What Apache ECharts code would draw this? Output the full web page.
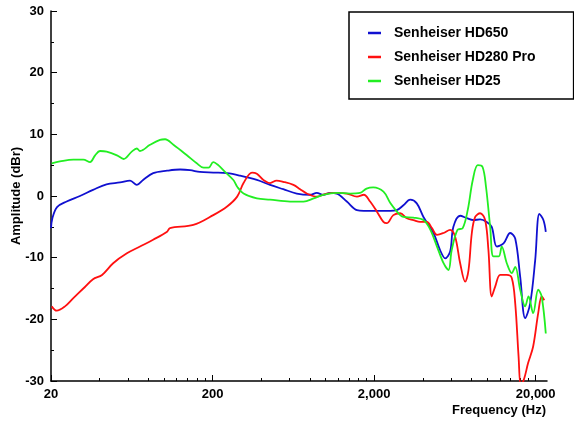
<!DOCTYPE html>
<html>
<head>
<meta charset="utf-8">
<script src="https://cdn.jsdelivr.net/npm/echarts@6/dist/echarts.min.js"></script>
<style>
html,body{margin:0;padding:0;background:#fff;}
#chart{width:574px;height:424px;}
</style>
</head>
<body>
<div id="chart"></div>
<script>
// Series names
const seriesNames = ['Senheiser HD650', 'Senheiser HD280 Pro', 'Senheiser HD25'];

// Senheiser HD650 (Hz, dBr)
const hd650Freq = [20, 20.4, 21.8, 25.0, 30.2, 36.4, 44.1, 53.5, 61.7, 68.0, 74.3, 85.8, 104.6, 125.9, 145, 167, 202, 246, 296, 376, 454, 548, 664, 803, 883, 969, 1068, 1173, 1355, 1566, 1727, 2078, 2513, 2760, 3036, 3342, 3673, 4040, 4660, 5126, 5506, 5909, 6190, 6816, 7500, 8240, 9062, 9950, 10690, 11500, 12650, 13910, 14940, 16040, 17220, 18500, 19860, 21080, 22320, 23100];
const hd650Amp = [-5.2, -3.6, -1.8, -0.9, 0.0, 1.0, 1.9, 2.2, 2.5, 1.8, 2.6, 3.7, 4.1, 4.3, 4.2, 3.9, 3.8, 3.7, 3.3, 2.6, 1.8, 1.1, 0.4, 0.2, 0.5, 0.2, 0.5, 0.4, -0.9, -2.3, -2.4, -2.4, -2.4, -2.3, -1.5, -0.6, -1.2, -3.4, -6.0, -8.8, -10.1, -9.0, -5.0, -3.2, -3.6, -3.9, -3.8, -4.2, -5.0, -8.2, -7.7, -6.0, -6.9, -13.1, -19.8, -17.4, -10.4, -2.9, -3.9, -5.8];

// Senheiser HD280 Pro (Hz, dBr)
const hd280Freq = [20.2, 21.7, 24.4, 27.4, 31.7, 36.4, 41.4, 48.5, 59.0, 71.1, 85.7, 104.6, 109, 152, 202, 246, 284, 311, 351, 376, 413, 454, 498, 548, 633, 697, 766, 883, 1020, 1173, 1355, 1566, 1727, 1889, 2078, 2283, 2395, 2630, 2899, 3190, 3500, 3855, 4236, 4560, 4900, 5380, 5909, 6345, 6816, 7321, 7680, 8050, 8445, 9062, 9732, 10200, 10690, 11230, 12060, 13250, 14220, 14940, 15670, 16200, 16980, 17950, 19290, 20730, 21780, 22590];
const hd280Amp = [-17.9, -18.6, -17.9, -16.6, -15.0, -13.5, -12.8, -10.9, -9.3, -8.2, -7.1, -5.8, -5.2, -4.7, -3.1, -1.7, -0.1, 2.1, 3.8, 3.6, 2.6, 2.1, 2.5, 2.3, 1.8, 1.1, 0.4, -0.1, 0.4, 0.5, 0.4, -0.1, 0.2, -0.9, -2.5, -4.2, -4.4, -3.1, -2.8, -3.6, -3.9, -4.2, -4.2, -5.2, -6.3, -6.0, -5.5, -6.6, -10.9, -13.9, -12.0, -6.0, -3.4, -2.8, -3.9, -8.8, -16.3, -14.7, -12.8, -12.8, -13.3, -17.4, -26.0, -30.8, -29.6, -27.1, -24.4, -19.0, -16.3, -16.9];

// Senheiser HD25 (Hz, dBr)
const hd25Freq = [20.2, 22.7, 27.5, 31.7, 34.9, 37.5, 40.2, 44.2, 51.2, 56.3, 63.2, 68.0, 71.1, 82, 94.6, 101.6, 114.5, 138.8, 159.7, 176, 189, 202, 217, 239, 269, 284, 311, 376, 454, 604, 731, 844, 969, 1173, 1421, 1637, 1795, 1975, 2285, 2513, 2760, 2899, 3036, 3500, 4040, 4445, 4900, 5380, 5770, 6040, 6560, 7070, 7590, 8160, 8760, 9380, 9850, 10454, 10960, 11810, 12330, 13250, 14220, 14940, 16040, 17220, 18050, 19290, 20730, 21780, 23100];
const hd25Amp = [5.3, 5.6, 5.9, 5.9, 5.5, 6.6, 7.3, 7.2, 6.6, 6.0, 7.2, 7.7, 7.3, 8.3, 9.1, 9.2, 8.3, 6.6, 5.3, 4.6, 4.6, 5.5, 5.0, 3.9, 2.6, 1.5, 0.4, -0.4, -0.6, -0.9, -0.9, -0.4, 0.2, 0.5, 0.4, 0.5, 1.2, 1.4, 0.7, -1.1, -2.5, -3.1, -3.4, -3.5, -3.9, -5.4, -8.2, -10.9, -12.0, -8.8, -5.5, -5.2, -2.3, 2.6, 5.0, 4.7, 1.5, -5.0, -9.8, -9.8, -8.2, -10.9, -12.5, -11.5, -15.2, -17.9, -16.3, -19.0, -15.2, -16.3, -22.3];

// Axis ticks
const xMajorTicks = [20, 200, 2000, 20000];
const xMinorTicks = [40, 60, 80, 100, 120, 140, 160, 180, 400, 600, 800, 1000, 1200, 1400, 1600, 1800, 4000, 6000, 8000, 10000, 12000, 14000, 16000, 18000];
const yTicks = [-30, -20, -10, 0, 10, 20, 30];

const colors = ['#1010d0', '#ff1010', '#22ee22'];

function pairs(f, a) { return f.map((v, i) => [v, a[i]]); }

const chart = echarts.init(document.getElementById('chart'));
const FONT = 'Liberation Sans';
const xBase = {
  type: 'log', logBase: 10, min: 20, max: 23500, gridIndex: 0, position: 'bottom',
  splitLine: { show: false }
};
chart.setOption({
  animation: false,
  backgroundColor: '#fff',
  color: colors,
  grid: { left: 51, right: 27, top: 11, bottom: 43, containLabel: false, outerBoundsMode: 'none' },
  legend: {
    left: 349, top: 12,
    orient: 'vertical',
    data: seriesNames.map(n => ({ name: n, icon: 'rect' })),
    itemWidth: 13, itemHeight: 2.5, itemGap: 8,
    padding: [13, 38, 10, 19],
    borderColor: '#000', borderWidth: 1.5, borderRadius: 0,
    backgroundColor: '#fff',
    textStyle: { fontFamily: FONT, fontSize: 14, fontWeight: 'bold', color: '#000', lineHeight: 16, padding: [0, 0, 0, 8] }
  },
  xAxis: [
    Object.assign({}, xBase, {
      name: 'Frequency (Hz)', nameLocation: 'end', nameGap: -1, nameMoveOverlap: false,
      nameTextStyle: { fontFamily: FONT, fontSize: 13, fontWeight: 'bold', color: '#000', align: 'right', verticalAlign: 'top', padding: [23, 0, 0, 0] },
      axisLine: { onZero: false, lineStyle: { color: '#000', width: 1.5 } },
      axisTick: { inside: true, length: 6, customValues: xMajorTicks, lineStyle: { color: '#000', width: 1 } },
      axisLabel: { customValues: xMajorTicks, margin: 7, fontFamily: FONT, fontSize: 13, fontWeight: 'bold', color: '#000',
        formatter: v => Math.round(v).toLocaleString('en-US') }
    }),
    Object.assign({}, xBase, {
      axisLine: { show: false, onZero: false },
      axisTick: { inside: true, length: 3, customValues: xMinorTicks, lineStyle: { color: '#000', width: 1 } },
      axisLabel: { show: false }
    })
  ],
  yAxis: {
    type: 'value', min: -30, max: 30, interval: 10,
    name: 'Amplitude (dBr)', nameLocation: 'middle', nameGap: 28, nameMoveOverlap: false,
    nameTextStyle: { fontFamily: FONT, fontSize: 13, fontWeight: 'bold', color: '#000' },
    axisLine: { show: true, onZero: false, lineStyle: { color: '#000', width: 1.5 } },
    axisTick: { show: true, inside: true, length: 6, lineStyle: { color: '#000' } },
    minorTick: { show: true, splitNumber: 2, length: 3, lineStyle: { color: '#000' } },
    axisLabel: { margin: 7, fontFamily: FONT, fontSize: 13, fontWeight: 'bold', color: '#000' },
    splitLine: { show: false }
  },
  series: [
    { name: seriesNames[0], type: 'line', data: pairs(hd650Freq, hd650Amp) },
    { name: seriesNames[1], type: 'line', data: pairs(hd280Freq, hd280Amp) },
    { name: seriesNames[2], type: 'line', data: pairs(hd25Freq, hd25Amp) }
  ].map(s => Object.assign(s, { xAxisIndex: 0, symbol: 'none', smooth: 0.35, clip: true, lineStyle: { width: 1.8 } }))
});
</script>
</body>
</html>
